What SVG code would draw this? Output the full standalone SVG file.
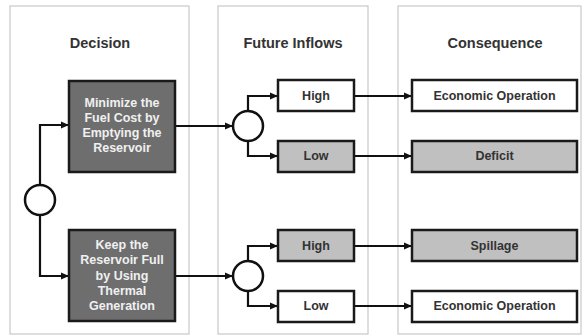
<svg xmlns="http://www.w3.org/2000/svg" width="583" height="336" viewBox="0 0 583 336">
<style>
.panel{fill:#fff;stroke:#c8c8c8;stroke-width:1.2}
.title{font-family:"Liberation Sans",Arial,sans-serif;font-weight:bold;font-size:14.5px;fill:#333;text-anchor:middle}
.box{stroke:#1a1a1a;stroke-width:2.5}
.dark{fill:#6e6e6e}
.light{fill:#c0c0c0}
.white{fill:#fff}
.t{font-family:"Liberation Sans",Arial,sans-serif;font-weight:bold;font-size:12.5px;text-anchor:middle}
.tw{fill:#f0f0f0}
.tb{fill:#333}
.circ{fill:#fff;stroke:#111;stroke-width:2.5}
.c{fill:none;stroke:#111;stroke-width:2.2}
</style>
<defs>
<marker id="ah" markerWidth="8" markerHeight="8" refX="7" refY="4" orient="auto" markerUnits="userSpaceOnUse">
<path d="M0,0.5 L8,4 L0,7.5 Z" fill="#111"/>
</marker>
</defs>
<rect width="583" height="336" fill="#fff"/>
<g id="panels">
<rect class="panel" x="10" y="6" width="179" height="328"/>
<rect class="panel" x="218" y="6" width="150" height="328"/>
<rect class="panel" x="398" y="6" width="183" height="328"/>
<text class="title" x="100" y="48">Decision</text>
<text class="title" x="293" y="48">Future Inflows</text>
<text class="title" x="495" y="48">Consequence</text>
</g>
<g id="connectors">
<path class="c" d="M40,185 V125 H68" marker-end="url(#ah)"/>
<path class="c" d="M40,215 V276 H68" marker-end="url(#ah)"/>
<path class="c" d="M175,126 H232" marker-end="url(#ah)"/>
<path class="c" d="M175,276 H232" marker-end="url(#ah)"/>
<path class="c" d="M248,111 V96 H277" marker-end="url(#ah)"/>
<path class="c" d="M248,141 V156 H277" marker-end="url(#ah)"/>
<path class="c" d="M248,261 V246 H277" marker-end="url(#ah)"/>
<path class="c" d="M248,291 V306 H277" marker-end="url(#ah)"/>
<path class="c" d="M354,96 H411" marker-end="url(#ah)"/>
<path class="c" d="M354,156 H411" marker-end="url(#ah)"/>
<path class="c" d="M354,246 H411" marker-end="url(#ah)"/>
<path class="c" d="M354,306 H411" marker-end="url(#ah)"/>
</g>
<g id="chance0"><circle class="circ" cx="40" cy="200" r="15"/></g>
<g id="chance1"><circle class="circ" cx="248" cy="126" r="15"/></g>
<g id="chance2"><circle class="circ" cx="248" cy="276" r="15"/></g>
<g id="decision1">
<rect class="box dark" x="69" y="81" width="106" height="91"/>
<text class="t tw" x="122" y="107">Minimize the</text>
<text class="t tw" x="122" y="122">Fuel Cost by</text>
<text class="t tw" x="122" y="137">Emptying the</text>
<text class="t tw" x="122" y="152">Reservoir</text>
</g>
<g id="decision2">
<rect class="box dark" x="69" y="230" width="106" height="91"/>
<text class="t tw" x="122" y="249">Keep the</text>
<text class="t tw" x="122" y="264">Reservoir Full</text>
<text class="t tw" x="122" y="280">by Using</text>
<text class="t tw" x="122" y="295">Thermal</text>
<text class="t tw" x="122" y="310">Generation</text>
</g>
<g id="high1">
<rect class="box white" x="278" y="80" width="76" height="31"/>
<text class="t tb" x="316" y="100">High</text>
</g>
<g id="low1">
<rect class="box light" x="278" y="141" width="76" height="31"/>
<text class="t tb" x="316" y="160">Low</text>
</g>
<g id="high2">
<rect class="box light" x="278" y="230" width="76" height="31"/>
<text class="t tb" x="316" y="250">High</text>
</g>
<g id="low2">
<rect class="box white" x="278" y="291" width="76" height="31"/>
<text class="t tb" x="316" y="310">Low</text>
</g>
<g id="econ1">
<rect class="box white" x="412" y="80" width="165" height="31"/>
<text class="t tb" x="494.5" y="100">Economic Operation</text>
</g>
<g id="deficit">
<rect class="box light" x="412" y="141" width="165" height="31"/>
<text class="t tb" x="494.5" y="160">Deficit</text>
</g>
<g id="spillage">
<rect class="box light" x="412" y="230" width="165" height="31"/>
<text class="t tb" x="494.5" y="250">Spillage</text>
</g>
<g id="econ2">
<rect class="box white" x="412" y="291" width="165" height="31"/>
<text class="t tb" x="494.5" y="310">Economic Operation</text>
</g>
</svg>
